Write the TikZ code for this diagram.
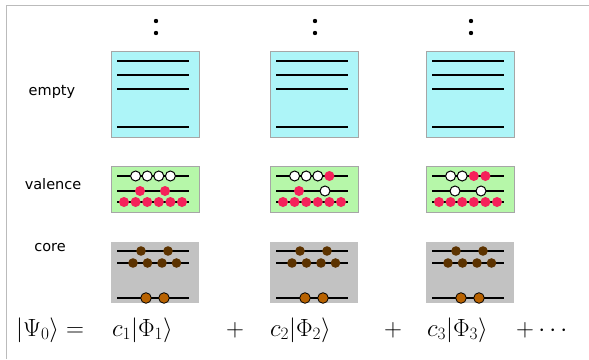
\documentclass[tikz,border=0pt]{standalone}
\usepackage{fontspec}
\newfontfamily\labelfont{DejaVu Sans}
\definecolor{emptyfill}{HTML}{ADF5F8}
\definecolor{valfill}{HTML}{B6F7A9}
\definecolor{corefill}{HTML}{C2C2C2}
\definecolor{elecred}{HTML}{F5215A}
\definecolor{darkbrown}{HTML}{5C3300}
\definecolor{orangebrown}{HTML}{B86200}
\definecolor{framegray}{HTML}{BBBBBB}
\tikzset{
  frameline/.style={draw=framegray, line width=1pt},
  levelbox/.style={draw=gray!70, line width=0.8pt, minimum width=88pt, anchor=north west, inner sep=0pt},
  level/.style={line width=1.4pt},
  holeel/.style={draw=black, line width=1pt, fill=white},
  redel/.style={fill=elecred},
  coreel/.style={fill=darkbrown},
  deepel/.style={draw=black, line width=0.8pt, fill=orangebrown},
  shelllabel/.style={font=\labelfont\fontsize{14.5}{17}\selectfont},
  eqtext/.style={font=\fontsize{25}{30}\selectfont, anchor=base west, inner sep=0pt}
}
\begin{document}
\begin{tikzpicture}[x=1pt,y=-1pt]
\useasboundingbox (0,0) rectangle (589,359);
% frame
\draw[frameline] (6,359) -- (6,5) -- (589,5);

% shell labels
\node[shelllabel] (lempty) at (52,92) {empty};
\node[shelllabel] (lval) at (53,184) {valence};
\node[shelllabel] (lcore) at (50,248) {core};

% the three determinants
\foreach \i/\x in {1/111,2/270,3/426}{
  \begin{scope}[shift={(\x,0)}]
    % continuation dots
    \fill (45,21) circle (2.2pt) (45,33) circle (2.2pt);
    % empty shell
    \node[levelbox, fill=emptyfill, minimum height=86pt] (empty\i) at (0,51) {};
    \foreach \y in {61,75,89,127} \draw[level] (6,\y) -- (78,\y);
    % valence shell
    \node[levelbox, fill=valfill, minimum height=46pt] (val\i) at (0,166) {};
    \foreach \y in {176,191,202} \draw[level] (6,\y) -- (78,\y);
    \foreach \k in {0,...,5} \fill[redel] (13+11.6*\k,202) circle (5pt);
    % core shell
    \node[levelbox, draw=none, fill=corefill, minimum height=61pt] (core\i) at (0,242) {};
    \foreach \y in {251,263,298} \draw[level] (6,\y) -- (78,\y);
    \foreach \xx in {30,57} \fill[coreel] (\xx,251) circle (4.8pt);
    \foreach \xx in {22,36.5,51,65.5} \fill[coreel] (\xx,263) circle (4.8pt);
    \foreach \xx in {35,53} \draw[deepel] (\xx,298) circle (5.3pt);
  \end{scope}
}

% valence occupations
\begin{scope}[shift={(111,0)}]
  \foreach \xx in {24.6,36.2,47.8,59.4} \draw[holeel] (\xx,176) circle (5pt);
  \fill[redel] (29,191) circle (5pt) (54,191) circle (5pt);
\end{scope}
\begin{scope}[shift={(270,0)}]
  \foreach \xx in {24.6,36.2,47.8} \draw[holeel] (\xx,176) circle (5pt);
  \fill[redel] (59.4,176) circle (5pt) (29,191) circle (5pt);
  \draw[holeel] (55,191) circle (5pt);
\end{scope}
\begin{scope}[shift={(426,0)}]
  \foreach \xx in {24.6,36.2} \draw[holeel] (\xx,176) circle (5pt);
  \fill[redel] (47.8,176) circle (5pt) (59.4,176) circle (5pt);
  \draw[holeel] (29,191) circle (5pt) (55,191) circle (5pt);
\end{scope}

% expansion
\node[eqtext] (psi) at (16,336) {$|\Psi_0\rangle =$};
\node[eqtext] (t1) at (112,336) {$c_1|\Phi_1\rangle$};
\node[eqtext] (p1) at (226,336) {$+$};
\node[eqtext] (t2) at (270,336) {$c_2|\Phi_2\rangle$};
\node[eqtext] (p2) at (384,336) {$+$};
\node[eqtext] (t3) at (427,336) {$c_3|\Phi_3\rangle$};
\node[eqtext] (p3) at (516,336) {$+\cdots$};
\end{tikzpicture}
\end{document}
